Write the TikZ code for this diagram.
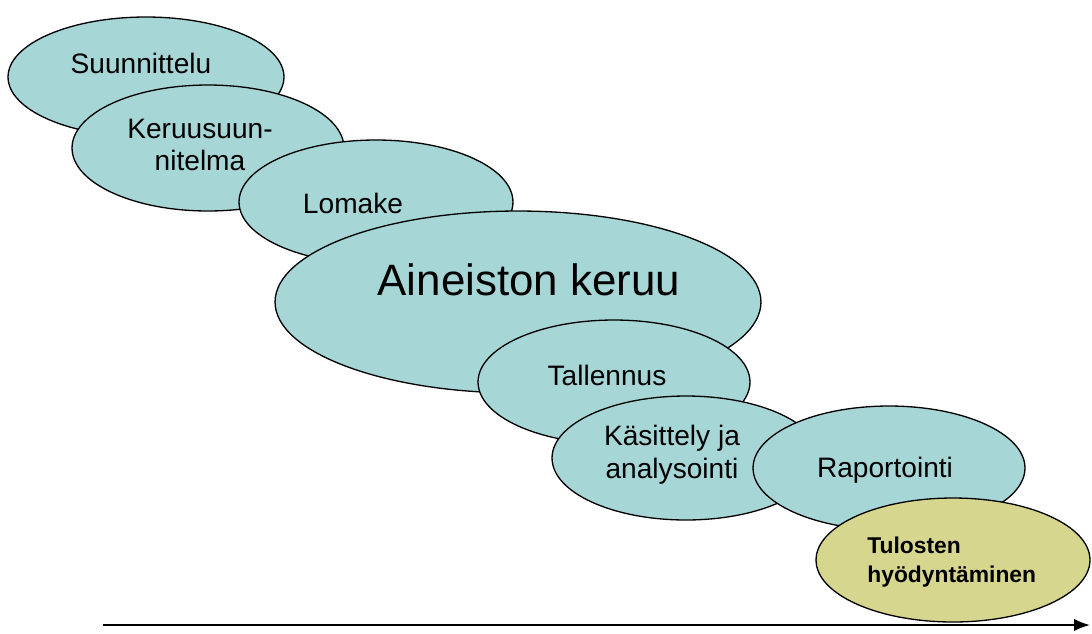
\documentclass[tikz,border=0pt]{standalone}
\usepackage{fontspec}
\setmainfont{Liberation Sans}
\usetikzlibrary{shapes.geometric,arrows.meta}
\definecolor{tealfill}{RGB}{166,214,214}
\definecolor{olivefill}{RGB}{214,214,143}
\tikzset{
  stage/.style={ellipse,draw=black,line width=0.75pt,fill=tealfill,inner sep=0pt},
  lbl/.style={anchor=base,inner sep=0pt,align=center,font=\fontsize{16}{18.5}\selectfont}
}
\begin{document}
\begin{tikzpicture}[x=0.02cm,y=-0.02cm]
\useasboundingbox (0,0) rectangle (1092,633);

\node[stage,minimum width=5.52cm,minimum height=2.40cm] (suun) at (146,77) {};  \node[lbl] (suunT) at (141,73) {Suunnittelu}; %1
\node[stage,minimum width=5.44cm,minimum height=2.52cm] (keru) at (208,148) {}; \node[lbl,font=\fontsize{16}{18}\selectfont] (keruT) at (200,170) {Keruusuun-\\nitelma}; %2
\node[stage,minimum width=5.48cm,minimum height=2.48cm] (loma) at (376,202) {}; \node[lbl] (lomaT) at (353,213) {Lomake}; %3
\node[stage,minimum width=9.72cm,minimum height=3.64cm] (aine) at (518,302) {}; \node[lbl,font=\fontsize{25}{30}\selectfont] (aineT) at (529,295) {Aineiston keruu}; %4
\node[stage,minimum width=5.44cm,minimum height=2.48cm] (tall) at (614,382) {}; \node[lbl] (tallT) at (607,385) {Tallennus}; %5
\node[stage,minimum width=5.36cm,minimum height=2.48cm] (kasi) at (686,458) {}; \node[lbl] (kasiT) at (672,478) {Käsittely ja\\analysointi}; %6
\node[stage,minimum width=5.44cm,minimum height=2.48cm] (rapo) at (889,468) {}; \node[lbl] (rapoT) at (885,477) {Raportointi}; %7
\node[stage,fill=olivefill,minimum width=5.48cm,minimum height=2.48cm] (tulo) at (953,560) {};
\node[lbl,anchor=base west,align=left,font=\bfseries\fontsize{13}{16.5}\selectfont] (tuloT) at (867,582) {Tulosten\\hyödyntäminen}; %8

\coordinate (t0) at (103,625);
\coordinate (t1) at (1090,625);
\draw[line width=1.1pt,-{Latex[length=9pt,width=7pt]}] (t0) -- (t1);
\end{tikzpicture}
\end{document}
